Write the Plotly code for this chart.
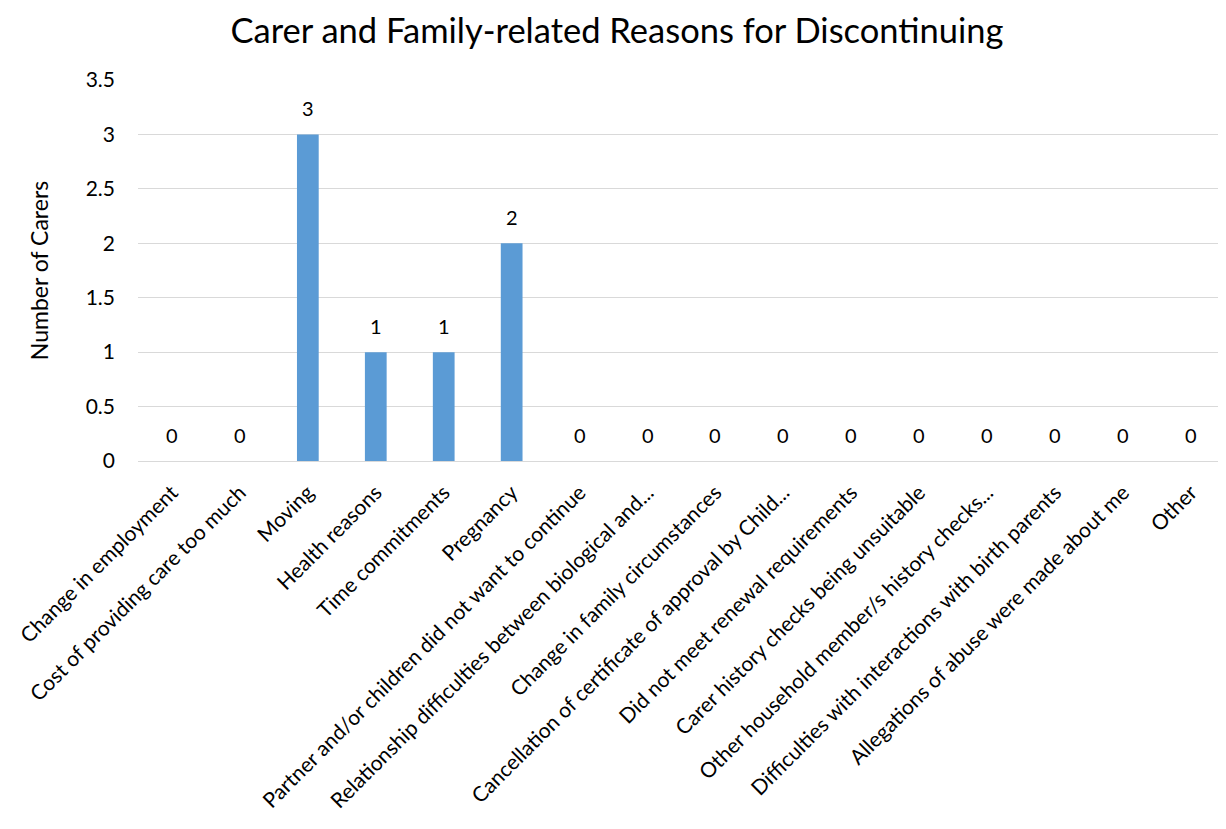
import plotly.graph_objects as go

categories = [
    "Change in employment",
    "Cost of providing care too much",
    "Moving",
    "Health reasons",
    "Time commitments",
    "Pregnancy",
    "Partner and/or children did not want to continue",
    "Relationship difficulties between biological and...",
    "Change in family circumstances",
    "Cancellation of certificate of approval by Child...",
    "Did not meet renewal requirements",
    "Carer history checks being unsuitable",
    "Other household member/s history checks...",
    "Difficulties with interactions with birth parents",
    "Allegations of abuse were made about me",
    "Other",
]
values = [0, 0, 3, 1, 1, 2, 0, 0, 0, 0, 0, 0, 0, 0, 0, 0]
y_ticks = [0, 0.5, 1, 1.5, 2, 2.5, 3, 3.5]
y_tick_labels = ["0", "0.5", "1", "1.5", "2", "2.5", "3", "3.5"]

FONT = "Lato, Open Sans, sans-serif"

fig = go.Figure(
    go.Bar(
        x=categories,
        y=values,
        marker=dict(color="#5b9bd5", line=dict(width=0)),
        hoverinfo="x+y",
    )
)

for c, v in zip(categories, values):
    fig.add_annotation(
        x=c, y=v, text=str(v), showarrow=False,
        yanchor="middle", yshift=26,
        font=dict(size=20, color="#000000", family=FONT),
    )

fig.update_layout(
    width=1218,
    height=821,
    paper_bgcolor="white",
    plot_bgcolor="white",
    bargap=0.68,
    margin=dict(l=130, r=1, t=72, b=368, autoexpand=False),
    title=dict(
        text="Carer and Family-related Reasons for Discontinuing",
        x=0.5,
        xanchor="center",
        y=0.972,
        yanchor="middle",
        font=dict(size=34.5, color="#000000", family=FONT),
    ),
    font=dict(family=FONT, color="#000000"),
    showlegend=False,
)

fig.update_xaxes(
    automargin=False,
    tickangle=-45,
    tickfont=dict(size=21, color="#000000", family=FONT),
    showline=True,
    linecolor="#d9d9d9",
    linewidth=1,
    ticks="",
    showgrid=False,
    ticklabelstandoff=10,
)
fig.update_yaxes(
    automargin=False,
    range=[0, 3.5],
    tickvals=y_ticks,
    ticktext=y_tick_labels,
    tickfont=dict(size=21, color="#000000", family=FONT),
    showgrid=True,
    gridcolor="#d9d9d9",
    gridwidth=1,
    zeroline=False,
    showline=False,
    ticks="",
    ticklabelstandoff=22,
    title=dict(text="Number of Carers", font=dict(size=23, color="#000000", family=FONT), standoff=30),
)

fig.write_html("out.html")
